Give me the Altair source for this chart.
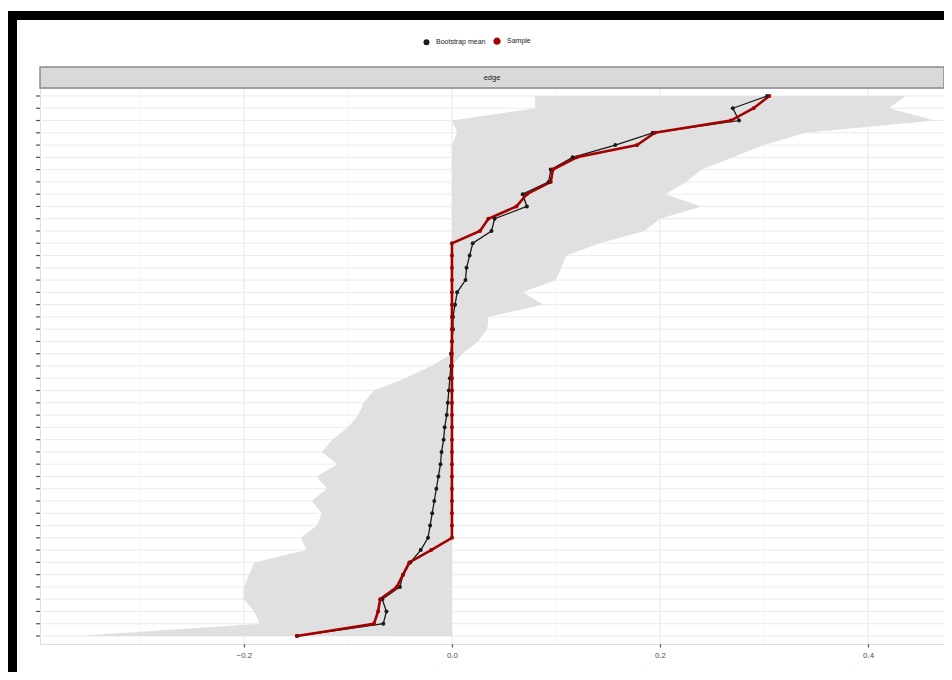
import altair as alt
import pandas as pd

# rows from top (largest sample edge weight) to bottom
sample = [0.305, 0.290, 0.268, 0.195, 0.178, 0.120, 0.097, 0.095, 0.072, 0.062,
          0.035, 0.027] + [0.0] * 25 + [-0.020, -0.041, -0.047, -0.053, -0.069,
                                        -0.071, -0.075, -0.149]
boot_mean = [0.303, 0.270, 0.276, 0.193, 0.157, 0.116, 0.095, 0.093, 0.068, 0.072,
             0.041, 0.038, 0.020, 0.017, 0.014, 0.013, 0.005, 0.003, 0.001, 0.001,
             0.000, -0.001, -0.001, -0.002, -0.003, -0.004, -0.005, -0.007, -0.008,
             -0.010, -0.011, -0.013, -0.015, -0.017, -0.019, -0.021, -0.023, -0.030,
             -0.040, -0.047, -0.050, -0.067, -0.063, -0.066, -0.149]
ci_lower = [0.08, 0.08, 0.0, 0.005] + [0.0] * 18 + [-0.02, -0.045, -0.075, -0.085,
            -0.09, -0.10, -0.115, -0.125, -0.11, -0.13, -0.12, -0.135, -0.125, -0.13,
            -0.145, -0.14, -0.19, -0.195, -0.20, -0.20, -0.19, -0.185, -0.36]
ci_upper = [0.436, 0.42, 0.464, 0.34, 0.30, 0.27, 0.24, 0.225, 0.205, 0.24, 0.20,
            0.185, 0.142, 0.11, 0.105, 0.10, 0.068, 0.088, 0.035, 0.034, 0.025,
            0.01] + [0.0] * 23
series_names = ["Bootstrap mean", "Sample"]
series_colors = ["#1a1a1a", "#a30000"]
x_major = [-0.2, 0.0, 0.2, 0.4]
x_minor = [-0.3, -0.1, 0.1, 0.3]
facet_label = "edge"

n = len(sample)
idx = list(range(1, n + 1))
df = pd.DataFrame({"idx": idx, "lower": ci_lower, "upper": ci_upper})
long = pd.concat([
    pd.DataFrame({"idx": idx, "value": boot_mean, "series": series_names[0]}),
    pd.DataFrame({"idx": idx, "value": sample, "series": series_names[1]}),
])

W, H = 904, 556
xscale = alt.Scale(domain=[-0.396, 0.473], nice=False, zero=False)
yscale = alt.Scale(domain=[0.35, n + 0.65], reverse=True, nice=False, zero=False)

x_axis = alt.Axis(values=x_major, format=".1f", title=None, domain=False, grid=False,
                  tickSize=3, tickColor="#555555", tickWidth=1.2,
                  labelColor="#4d4d4d", labelFontSize=8, labelPadding=4)

grid_minor = alt.Chart(pd.DataFrame({"v": x_minor})).mark_rule(
    color="#f2f2f2", strokeWidth=0.8).encode(x=alt.X("v:Q", scale=xscale, axis=x_axis))
grid_major = alt.Chart(pd.DataFrame({"v": x_major})).mark_rule(
    color="#ebebeb", strokeWidth=1.2).encode(x=alt.X("v:Q", scale=xscale))
grid_y = alt.Chart(pd.DataFrame({"idx": idx})).mark_rule(
    color="#ebebeb", strokeWidth=1).encode(y=alt.Y("idx:Q", scale=yscale, axis=None))
y_ticks = alt.Chart(pd.DataFrame({"idx": idx})).mark_rule(
    color="#555555", strokeWidth=1.2).encode(
    y=alt.Y("idx:Q", scale=yscale), x=alt.value(-4), x2=alt.value(0))

band = alt.Chart(df).mark_area(orient="horizontal", color="#e0e0e0").encode(
    y=alt.Y("idx:Q", scale=yscale),
    x=alt.X("lower:Q", scale=xscale),
    x2="upper:Q",
)

color = alt.Color("series:N", scale=alt.Scale(domain=series_names, range=series_colors),
                  legend=alt.Legend(title=None, orient="none", direction="horizontal",
                                    legendX=383, legendY=-51, symbolType="circle",
                                    symbolSize=22, labelFontSize=7, labelOffset=6,
                                    columnPadding=3, symbolStrokeWidth=0,
                                    labelColor="#1a1a1a"))

lines = alt.Chart(long).mark_line().encode(
    x=alt.X("value:Q", scale=xscale),
    y=alt.Y("idx:Q", scale=yscale),
    order="idx:Q",
    color=color,
    strokeWidth=alt.StrokeWidth("series:N",
                                scale=alt.Scale(domain=series_names, range=[1.3, 2.6]),
                                legend=None),
)
points = alt.Chart(long).mark_circle(size=16, opacity=1).encode(
    x=alt.X("value:Q", scale=xscale),
    y=alt.Y("idx:Q", scale=yscale),
    color=color,
)

one = pd.DataFrame({"a": [0]})
strip = alt.Chart(one).mark_rect(fill="#d9d9d9", stroke="#8c8c8c", strokeWidth=1.5).encode(
    x=alt.value(0), x2=alt.value(W), y=alt.value(-21), y2=alt.value(0))
strip_text = alt.Chart(one).mark_text(fontSize=7.5, color="#1a1a1a").encode(
    x=alt.value(W / 2), y=alt.value(-10.5), text=alt.value(facet_label))
frame_top = alt.Chart(one).mark_rect(color="black").encode(
    x=alt.value(-32), x2=alt.value(920), y=alt.value(-77), y2=alt.value(-68))
frame_left = alt.Chart(one).mark_rect(color="black").encode(
    x=alt.value(-32), x2=alt.value(-23), y=alt.value(-77), y2=alt.value(600))

chart = alt.layer(
    grid_minor, grid_major, grid_y, band, lines, points, y_ticks,
    strip, strip_text, frame_top, frame_left,
).resolve_scale(color="shared").properties(
    width=W, height=H, autosize="none",
    padding={"left": 32, "top": 80, "right": 0, "bottom": 28},
    background="white",
).configure_view(stroke="#8c8c8c", strokeWidth=1.5).configure(font="Liberation Sans")

chart.save("out.html", embed_options={"renderer": "svg", "actions": False})
